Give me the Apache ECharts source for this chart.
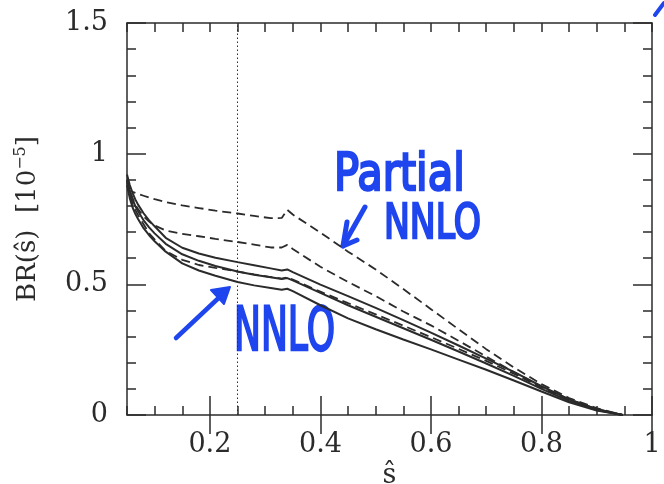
<!DOCTYPE html>
<html>
<head>
<meta charset="utf-8">
<script src="https://cdn.jsdelivr.net/npm/echarts@6/dist/echarts.min.js"></script>
<style>
  html, body { margin: 0; padding: 0; background: #ffffff; }
  #chart { width: 664px; height: 484px; }
</style>
</head>
<body>
<div id="chart"></div>
<script>
// Dilepton invariant-mass grid (s-hat) shared by every curve
const sHat = [0.05, 0.055, 0.06, 0.065, 0.07, 0.08, 0.09, 0.10, 0.12, 0.15, 0.18, 0.21, 0.25, 0.28, 0.31,
              0.33, 0.34, 0.35, 0.40, 0.45, 0.50, 0.55, 0.60, 0.65, 0.70, 0.75, 0.80, 0.85, 0.90, 0.947];

// NNLO band (solid lines): upper edge, central value, lower edge
const nnloHigh = [0.920, 0.880, 0.850, 0.825, 0.805, 0.772, 0.745, 0.722, 0.678, 0.640, 0.618, 0.602, 0.585, 0.573, 0.561,
                  0.553, 0.557, 0.547, 0.499, 0.455, 0.410, 0.363, 0.315, 0.266, 0.216, 0.165, 0.110, 0.060, 0.022, 0.0];
const nnloMid  = [0.900, 0.855, 0.825, 0.800, 0.780, 0.745, 0.718, 0.695, 0.655, 0.615, 0.590, 0.570, 0.549, 0.537, 0.527,
                  0.520, 0.524, 0.515, 0.467, 0.420, 0.376, 0.332, 0.288, 0.243, 0.197, 0.150, 0.100, 0.054, 0.019, 0.0];
const nnloLow  = [0.880, 0.830, 0.795, 0.770, 0.750, 0.715, 0.688, 0.665, 0.625, 0.580, 0.553, 0.533, 0.509, 0.496, 0.486,
                  0.479, 0.483, 0.474, 0.420, 0.370, 0.328, 0.289, 0.251, 0.212, 0.173, 0.132, 0.090, 0.049, 0.017, 0.0];

// Partial NNLO band (dashed lines)
const partialHigh = [0.862, 0.858, 0.854, 0.850, 0.846, 0.839, 0.832, 0.826, 0.815, 0.802, 0.792, 0.782, 0.771, 0.762, 0.753,
                     0.754, 0.785, 0.767, 0.698, 0.625, 0.557, 0.482, 0.405, 0.328, 0.252, 0.182, 0.118, 0.065, 0.026, 0.0];
const partialMid  = [0.900, 0.860, 0.830, 0.805, 0.788, 0.760, 0.740, 0.725, 0.706, 0.693, 0.684, 0.674, 0.662, 0.652, 0.641,
                     0.641, 0.651, 0.635, 0.567, 0.509, 0.455, 0.396, 0.343, 0.284, 0.224, 0.164, 0.108, 0.060, 0.023, 0.0];
const partialLow  = [0.890, 0.840, 0.810, 0.785, 0.765, 0.730, 0.695, 0.672, 0.628, 0.594, 0.574, 0.563, 0.549, 0.538, 0.528,
                     0.522, 0.527, 0.518, 0.472, 0.428, 0.385, 0.342, 0.298, 0.253, 0.207, 0.158, 0.105, 0.057, 0.021, 0.0];

// Tick positions: every minor slot along each axis, and which of them carry a label
const xTickSlots = ['0.05', '0.1', '0.15', '0.2', '0.25', '0.3', '0.35', '0.4', '0.45', '0.5',
                    '0.55', '0.6', '0.65', '0.7', '0.75', '0.8', '0.85', '0.9', '0.95', '1'];
const xMajorTicks = ['0.2', '0.4', '0.6', '0.8', '1'];
const yTickSlots = ['0', '0.1', '0.2', '0.3', '0.4', '0.5', '0.6', '0.7', '0.8', '0.9',
                    '1', '1.1', '1.2', '1.3', '1.4', '1.5'];
const yMajorTicks = ['0', '0.5', '1', '1.5'];
const lowQ2Cut = 0.25;

const INK = '#2b2b2b';
const SERIF = 'DejaVu Serif';
const BLUE = '#1f45ee';

const pairs = (ys) => sHat.map((s, i) => [s, ys[i]]);
const lineStyle = { color: INK, width: 1.5 };

// value axis: carries the data scale, the frame line and the short ticks
function valueAxis(position, min, max, step) {
  return {
    type: 'value', position: position, min: min, max: max, interval: step,
    axisLine: { show: true, onZero: false, lineStyle: lineStyle },
    axisTick: { show: true, inside: true, length: 9, lineStyle: lineStyle },
    axisLabel: { show: false },
    splitLine: { show: false }
  };
}

// category axis over the same slots: long ticks and labels at the major values
function majorAxis(position, slots, majors, withLabels, extra) {
  const pick = (idx, val) => majors.indexOf(String(val)) >= 0;
  return Object.assign({
    type: 'category', position: position, data: slots, boundaryGap: false,
    axisLine: { show: false },
    axisTick: { show: true, inside: true, length: 19, interval: pick, lineStyle: lineStyle },
    axisLabel: withLabels ? { show: true, interval: pick, margin: 16,
                              fontFamily: SERIF, fontSize: 27, color: INK } : { show: false },
    splitLine: { show: false }
  }, extra || {});
}

function curve(name, ys, dashed) {
  return {
    name: name, type: 'line', data: pairs(ys), xAxisIndex: 0, yAxisIndex: 0,
    showSymbol: false, smooth: false, silent: true,
    lineStyle: { color: INK, width: dashed ? 1.8 : 2, type: dashed ? [9, 5] : 'solid' }
  };
}

const chart = echarts.init(document.getElementById('chart'), null, { renderer: 'canvas' });

const series = [
  curve('NNLO high', nnloHigh, false),
  curve('NNLO', nnloMid, false),
  curve('NNLO low', nnloLow, false),
  curve('Partial NNLO high', partialHigh, true),
  curve('Partial NNLO', partialMid, true),
  curve('Partial NNLO low', partialLow, true)
];
series[0].markLine = {
  silent: true, symbol: 'none', label: { show: false },
  lineStyle: { color: INK, width: 1, type: [1.5, 2.5] },
  data: [{ xAxis: lowQ2Cut }]
};

const handStyle = (size) => ({
  fontFamily: 'DejaVu Sans', fontWeight: 'normal', fontSize: size,
  fill: BLUE, stroke: BLUE, lineWidth: 2.5, lineJoin: 'round',
  textAlign: 'left', textVerticalAlign: 'middle'
});

chart.setOption({
  animation: false,
  backgroundColor: '#ffffff',
  grid: { left: 127, right: 12, top: 23, bottom: 69, containLabel: false, outerBoundsMode: 'none' },
  xAxis: [
    valueAxis('bottom', 0.05, 1, 0.05),
    majorAxis('bottom', xTickSlots, xMajorTicks, true, {
      name: 'ŝ', nameLocation: 'middle', nameGap: 44,
      nameTextStyle: { fontFamily: SERIF, fontSize: 27, color: INK }
    }),
    valueAxis('top', 0.05, 1, 0.05),
    majorAxis('top', xTickSlots, xMajorTicks, false)
  ],
  yAxis: [
    valueAxis('left', 0, 1.5, 0.1),
    majorAxis('left', yTickSlots, yMajorTicks, true, {
      axisLabel: { show: true, interval: (i, v) => yMajorTicks.indexOf(String(v)) >= 0, margin: 19,
                   fontFamily: SERIF, fontSize: 27, color: INK },
      name: '{t|BR(ŝ)  [10}{e|−5}{t|]}', nameLocation: 'middle', nameGap: 84,
      nameTextStyle: {
        rich: {
          t: { fontFamily: SERIF, fontSize: 26, color: INK, lineHeight: 30 },
          e: { fontFamily: SERIF, fontSize: 16, color: INK, verticalAlign: 'top', lineHeight: 30 }
        }
      }
    }),
    valueAxis('right', 0, 1.5, 0.1),
    majorAxis('right', yTickSlots, yMajorTicks, false)
  ],
  series: series,
  graphic: [
    // handwritten notes in blue marker
    { type: 'text', x: 334, y: 176, scaleX: 0.8, silent: true,
      style: Object.assign({ text: 'Partial' }, handStyle(52)) },
    { type: 'text', x: 384, y: 226, scaleX: 0.72, silent: true,
      style: Object.assign({ text: 'NNLO' }, handStyle(48)) },
    { type: 'text', x: 234, y: 334, scaleX: 0.6, silent: true,
      style: Object.assign({ text: 'NNLO' }, handStyle(60)) },
    { type: 'polyline', silent: true,
      shape: { points: [[365, 207], [343, 246]] },
      style: { stroke: BLUE, lineWidth: 5, lineCap: 'round', fill: null } },
    { type: 'polyline', silent: true,
      shape: { points: [[347, 222], [343, 246], [357, 240]] },
      style: { stroke: BLUE, lineWidth: 5, lineCap: 'round', lineJoin: 'round', fill: null } },
    { type: 'polyline', silent: true,
      shape: { points: [[176, 338], [226, 291]] },
      style: { stroke: BLUE, lineWidth: 4.5, lineCap: 'round', fill: null } },
    { type: 'polygon', silent: true,
      shape: { points: [[211, 290], [230, 287], [224, 304]] },
      style: { fill: BLUE, stroke: BLUE, lineWidth: 2, lineJoin: 'round' } },
    { type: 'polyline', silent: true,
      shape: { points: [[655, 15], [664, 3]] },
      style: { stroke: BLUE, lineWidth: 4, lineCap: 'round', fill: null } }
  ]
});
</script>
</body>
</html>
